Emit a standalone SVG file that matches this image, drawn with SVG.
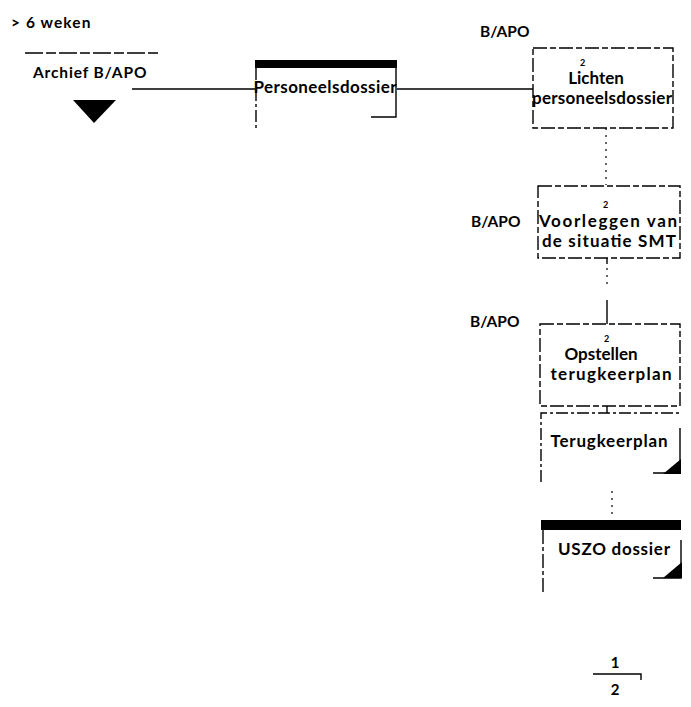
<svg xmlns="http://www.w3.org/2000/svg" width="691" height="707" viewBox="0 0 691 707">
<style>
text{font-family:Lato,"DejaVu Sans","Liberation Sans",sans-serif;fill:#000;font-weight:bold}
.lbl{font-size:15.5px;letter-spacing:0.6px}
.t{font-size:17px;text-anchor:middle}
.sup{font-size:9px}
.box{fill:none;stroke:#000;stroke-width:1.4;stroke-dasharray:14 3 6 3}
.ln{fill:none;stroke:#000;stroke-width:1.4}
.dot{fill:none;stroke:#000;stroke-width:1.2;stroke-dasharray:2 5}
</style>
<rect width="691" height="707" fill="#fff"/>
<text class="lbl" x="11" y="28" textLength="80">&gt; 6 weken</text>
<g id="archief">
<path class="ln" d="M25 53H158" stroke-dasharray="18 3 10 3"/>
<text class="lbl" x="33" y="78" textLength="114">Archief B/APO</text>
<polygon points="73,100 116,100 94,123" fill="#000"/>
</g>
<g id="connectors">
<path class="ln" d="M132 89H255M397 89H533"/>
<path class="dot" d="M606 128V185"/>
<path class="ln" d="M607 258V264"/>
<path class="dot" d="M607 268V285"/>
<path class="ln" d="M607 300V324"/>
<path class="ln" d="M607 406V413"/>
<path class="dot" d="M612 491V518"/>
</g>
<g id="personeelsdossier">
<rect x="255" y="60" width="142" height="8" fill="#000"/>
<path class="ln" d="M256 68V130" stroke-dasharray="12 3 3 3"/>
<path class="ln" d="M396 68V117H371"/>
<text class="t" x="325" y="93" textLength="143">Personeelsdossier</text>
</g>
<g id="lichten">
<text class="lbl" x="480" y="37" textLength="50">B/APO</text>
<rect class="box" x="533" y="48" width="140" height="80"/>
<text class="t" x="596" y="84">Lichten</text>
<text class="sup" x="580" y="66">2</text>
<text class="t" x="602" y="104" textLength="140">personeelsdossier</text>
</g>
<g id="voorleggen">
<text class="lbl" x="471" y="227" textLength="50">B/APO</text>
<rect class="box" x="538" y="186" width="142" height="72"/>
<text class="t" x="608" y="227" textLength="138">Voorleggen van</text>
<text class="t" x="609" y="247" textLength="134">de situatie SMT</text>
<text class="sup" x="603" y="208">2</text>
</g>
<g id="opstellen">
<text class="lbl" x="470" y="327" textLength="50">B/APO</text>
<rect class="box" x="540" y="324" width="140" height="82"/>
<text class="t" x="601" y="360">Opstellen</text>
<text class="t" x="611" y="380" textLength="121">terugkeerplan</text>
<text class="sup" x="604" y="342">2</text>
</g>
<g id="terugkeerplan">
<path class="ln" d="M541 482V413H681" stroke-dasharray="12 3 3 3"/>
<path class="ln" d="M680 428V473H653"/>
<polygon points="681,459 681,474 663,474" fill="#000"/>
<text class="t" x="609" y="447" textLength="117">Terugkeerplan</text>
</g>
<g id="uszo">
<rect x="541" y="520" width="140" height="10" fill="#000"/>
<path class="ln" d="M543 530V592" stroke-dasharray="14 3 4 3"/>
<path class="ln" d="M681 540V578H653"/>
<polygon points="682,562 682,578 663,578" fill="#000"/>
<text class="t" x="614" y="555" textLength="112">USZO dossier</text>
</g>
<g id="pagina">
<text x="615" y="668" style="font-size:15px;text-anchor:middle">1</text>
<text x="615" y="695" style="font-size:15px;text-anchor:middle">2</text>
<path class="ln" d="M593 674H641V680"/>
</g>
</svg>
